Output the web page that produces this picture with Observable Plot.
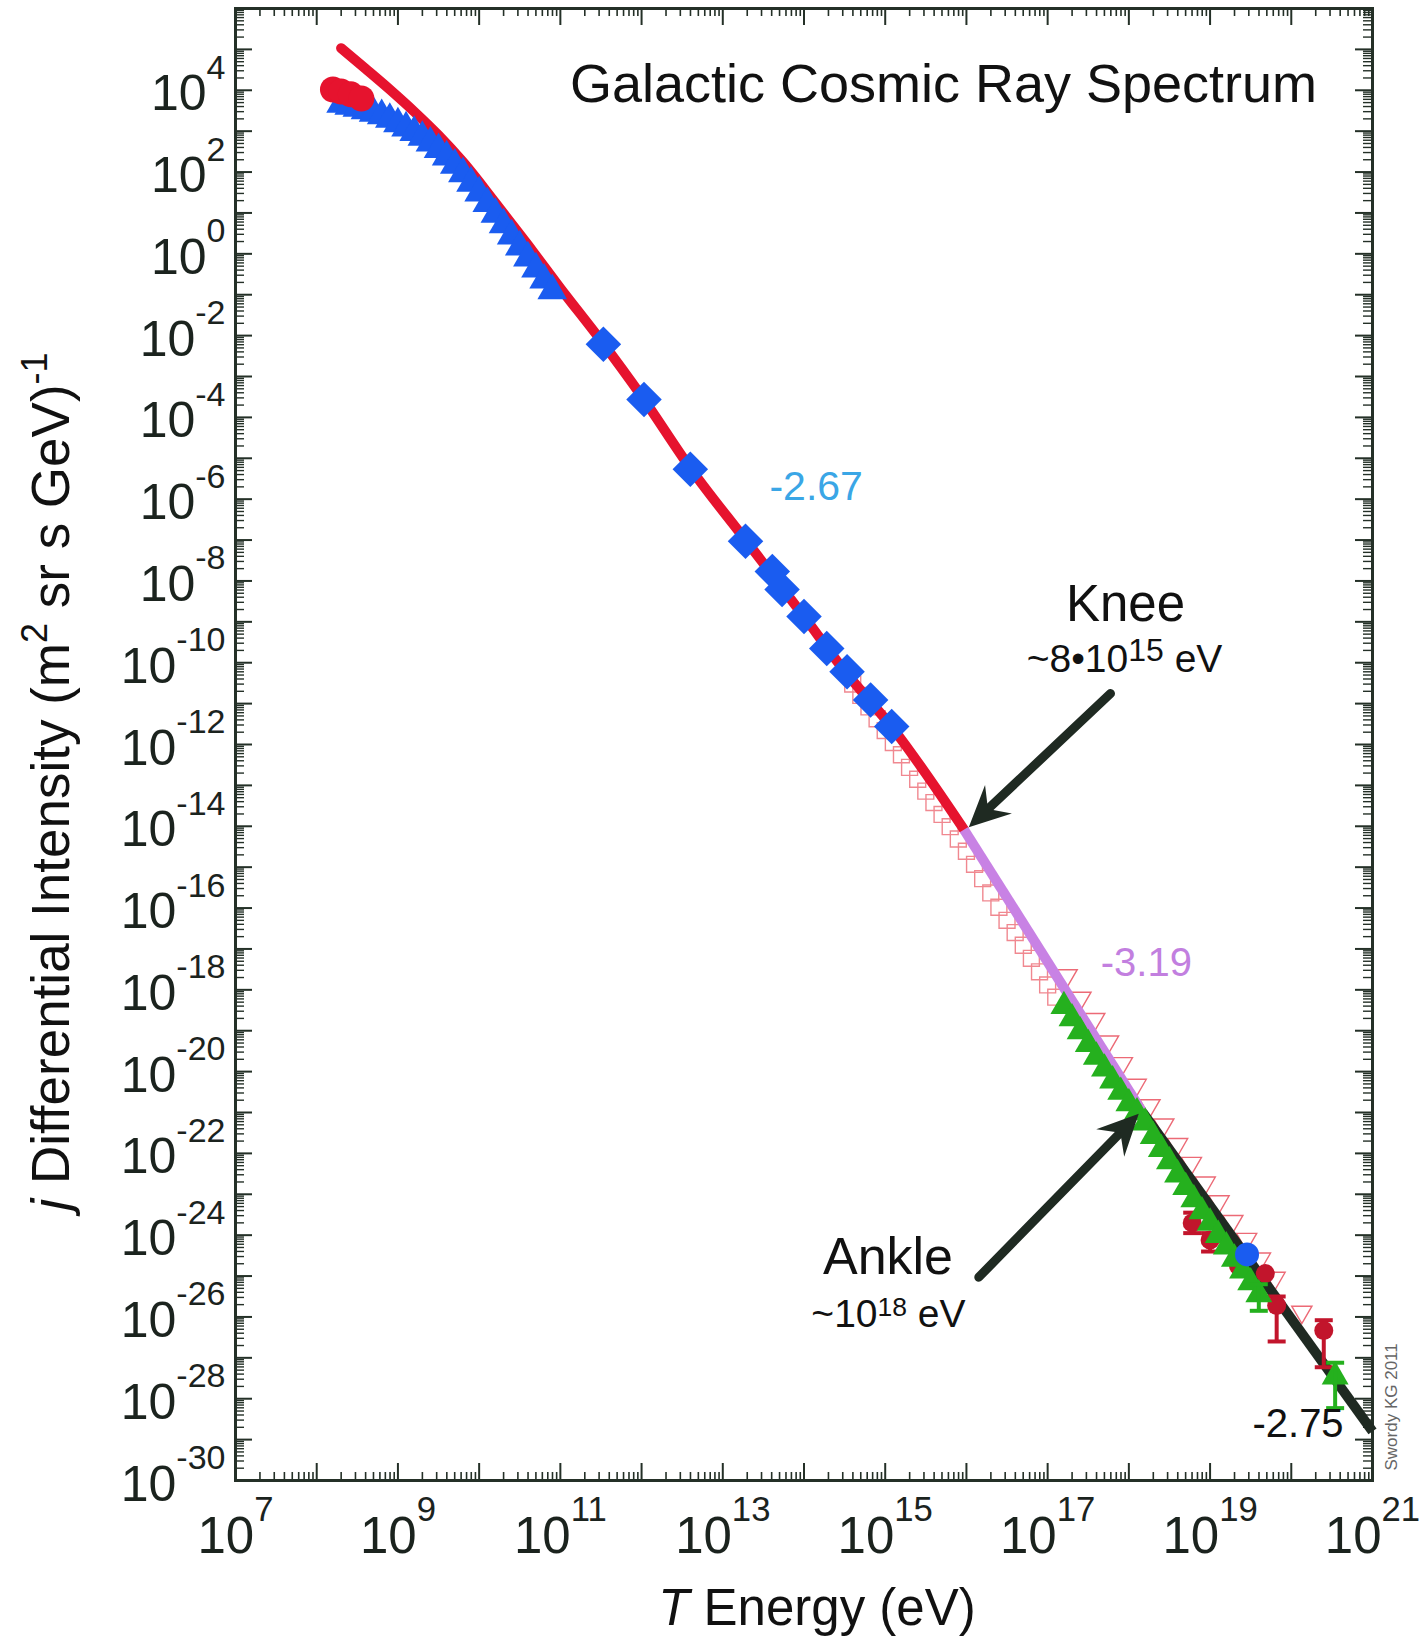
<!DOCTYPE html>
<html><head><meta charset="utf-8">
<script src="https://cdn.jsdelivr.net/npm/d3@7"></script>
<script src="https://cdn.jsdelivr.net/npm/@observablehq/plot@0.6"></script>
<style>html,body{margin:0;padding:0;background:#fff;} svg{display:block;}</style>
</head><body><div id="chart"></div>
<script>
// ---- values: log10(E / eV) and log10(j / (m^2 sr s GeV)^-1) ----
const fitRedLogE = [8.3, 8.6, 8.9, 9.2, 9.5, 9.8, 10.2, 10.6, 11.0, 11.5, 12.0, 12.6, 13.3, 14.0, 14.5, 15.1, 15.97];
const fitRedLogJ = [5.03, 4.53, 4.02, 3.48, 2.90, 2.25, 1.25, 0.22, -0.84, -2.12, -3.48, -5.24, -7.05, -8.87, -10.20, -11.62, -14.08];
const fitVioletLogE = [15.97, 18.17];
const fitVioletLogJ = [-14.08, -21.0];
const fitBlackLogE = [18.17, 21.0];
const fitBlackLogJ = [-21.0, -28.8];

const redCircleLogE = [8.2, 8.3, 8.42, 8.55];
const redCircleLogJ = [4.02, 3.97, 3.90, 3.80];

const blueTriLogE = [8.3, 8.4, 8.5, 8.6, 8.7, 8.8, 8.9, 9.0, 9.1, 9.2, 9.3, 9.4, 9.5, 9.6, 9.7, 9.8, 9.9, 10.0, 10.1, 10.2, 10.3, 10.4, 10.5, 10.6, 10.7, 10.8, 10.9];
const blueTriLogJ = [3.66, 3.61, 3.56, 3.50, 3.44, 3.38, 3.29, 3.18, 3.08, 2.97, 2.85, 2.71, 2.55, 2.37, 2.17, 1.96, 1.73, 1.49, 1.23, 0.97, 0.71, 0.44, 0.17, -0.10, -0.37, -0.64, -0.90];

const diamondLogE = [11.53, 12.03, 12.60, 13.28, 13.61, 13.73, 14.00, 14.28, 14.53, 14.82, 15.08];
const diamondLogJ = [-2.21, -3.56, -5.27, -7.03, -7.77, -8.21, -8.87, -9.65, -10.22, -10.91, -11.56];

const openSqLogE = [14.6, 14.7, 14.8, 14.9, 15.0, 15.1, 15.2, 15.3, 15.4, 15.5, 15.6, 15.7, 15.8, 15.9, 16.0, 16.1, 16.2, 16.3, 16.4, 16.5, 16.6, 16.7, 16.8, 16.9, 17.0, 17.1];
const openSqLogJ = [-10.52, -10.80, -11.08, -11.37, -11.66, -11.95, -12.25, -12.56, -12.85, -13.14, -13.42, -13.71, -14.01, -14.31, -14.61, -14.93, -15.28, -15.63, -15.98, -16.30, -16.60, -16.91, -17.23, -17.56, -17.88, -18.18];

const openTriLogE = [17.24, 17.41, 17.58, 17.75, 17.92, 18.09, 18.26, 18.43, 18.60, 18.77, 18.94, 19.11, 19.28, 19.45, 19.62, 19.80, 20.13];
const openTriLogJ = [-17.65, -18.20, -18.72, -19.27, -19.80, -20.33, -20.83, -21.30, -21.78, -22.24, -22.72, -23.18, -23.66, -24.10, -24.58, -25.05, -25.88];

const greenTriLogE = [17.2, 17.3, 17.4, 17.5, 17.6, 17.7, 17.8, 17.9, 18.0, 18.1, 18.2, 18.3, 18.4, 18.5, 18.6, 18.7, 18.8, 18.9, 19.0, 19.1, 19.2, 19.3, 19.4, 19.5, 19.6, 20.54];
const greenTriLogJ = [-18.40, -18.70, -19.02, -19.33, -19.64, -19.93, -20.22, -20.50, -20.78, -21.00, -21.25, -21.58, -21.90, -22.20, -22.52, -22.83, -23.13, -23.42, -23.70, -24.00, -24.28, -24.58, -24.87, -25.16, -25.45, -27.46];
const greenErrLogE = [19.6, 20.54];
const greenErrLo = [-25.85, -28.23];
const greenErrHi = [-25.2, -27.12];

const darkRedLogE = [18.78, 19.0, 19.35, 19.68, 19.82, 20.40];
const darkRedLogJ = [-23.70, -24.12, -24.75, -24.94, -25.72, -26.33];
const darkRedErrLogE = [18.78, 19.0, 19.82, 20.40];
const darkRedErrLo = [-23.95, -24.40, -26.60, -27.23];
const darkRedErrHi = [-23.45, -23.95, -25.50, -26.08];

const blueCircleLogE = [19.455];
const blueCircleLogJ = [-24.47];

// axis ticks (exponents)
const xMajorExp = [7, 8, 9, 10, 11, 12, 13, 14, 15, 16, 17, 18, 19, 20, 21];
const xLabelExp = [7, 9, 11, 13, 15, 17, 19, 21];
const yMajorExp = [6, 5, 4, 3, 2, 1, 0, -1, -2, -3, -4, -5, -6, -7, -8, -9, -10, -11, -12, -13, -14, -15, -16, -17, -18, -19, -20, -21, -22, -23, -24, -25, -26, -27, -28, -29, -30];
const yLabelExp = [4, 2, 0, -2, -4, -6, -8, -10, -12, -14, -16, -18, -20, -22, -24, -26, -28, -30];
const minorMult = [2, 3, 4, 5, 6, 7, 8, 9];

// texts
const chartTitle = "Galactic Cosmic Ray Spectrum";
const xTitle = "@{T} Energy (eV)";
const yTitle = "@{j} Differential Intensity (m^[0.68,0.42]{2} sr s GeV)^[0.68,0.42]{-1}";
const credit = "Swordy KG 2011";
// annotation anchors [logE, logJ]
const slopeRed = {text: "-2.67", at: [14.15, -5.71]};
const slopeViolet = {text: "-3.19", at: [18.215, -17.34]};
const slopeBlack = {text: "-2.75", at: [20.083, -28.63]};
const kneeLabel = {text: "Knee", at: [17.959, -8.57]};
const kneeValue = {text: "~8•10^[0.82,0.3]{15} eV", at: [17.947, -9.93]};
const ankleLabel = {text: "Ankle", at: [15.034, -24.54]};
const ankleValue = {text: "~10^[0.68,0.3]{18} eV", at: [15.04, -25.95]};
// arrows [fromLogE, fromLogJ, toLogE, toLogJ]
const kneeArrow = [17.774, -10.753, 16.029, -14.022];
const ankleArrow = [16.152, -25.028, 18.122, -21.032];

// ---- build ----
const pts = (E, J) => E.map((e, i) => ({E: 10 ** e, J: 10 ** J[i]}));
const errs = (E, lo, hi) => E.map((e, i) => ({E: 10 ** e, lo: 10 ** lo[i], hi: 10 ** hi[i]}));
const caps = (E, lo, hi) => E.flatMap((e, i) => [{E: 10 ** e, J: 10 ** lo[i]}, {E: 10 ** e, J: 10 ** hi[i]}]);
const ann = (a) => [{E: 10 ** a.at[0], J: 10 ** a.at[1], text: a.text}];
const arrowRow = (a) => [{x1: 10 ** a[0], y1: 10 ** a[1], x2: 10 ** a[2], y2: 10 ** a[3]}];

const xMajor = xMajorExp.map(e => 10 ** e);
const yMajor = yMajorExp.map(e => 10 ** e);
const xMinor = xMajorExp.slice(0, -1).flatMap(e => minorMult.map(m => m * 10 ** e));
const yMinor = yMajorExp.slice(1).flatMap(e => minorMult.map(m => m * 10 ** e));

const W = 1422, H = 1639, mL = 235, mR = 50, mT = 8, mB = 159;
const plotW = W - mL - mR, plotH = H - mT - mB;
const pxPerDecX = plotW / (xMajorExp[xMajorExp.length - 1] - xMajorExp[0]);
const pxPerDecY = plotH / (yMajorExp[0] - yMajorExp[yMajorExp.length - 1]);
// screen angle of an arrow (degrees clockwise from "up"), for orienting its head
const headAngle = (a) => Math.atan2((a[2] - a[0]) * pxPerDecX, (a[3] - a[1]) * pxPerDecY) * 180 / Math.PI;

const ink = "#243027", arrowInk = "#1f2a22";
const blue = "#1a5cf0", red = "#e6132e", violet = "#c882e4", green = "#25b01e", darkRed = "#c2152c";
const capSymbol = {draw(ctx, size) { const r = Math.sqrt(size / Math.PI); ctx.moveTo(-r, 0); ctx.lineTo(r, 0); }};
// barbed arrowhead, tip at the origin, pointing up
const headSymbol = {draw(ctx, size) {
  const r = Math.sqrt(size / Math.PI), L = 2.4 * r, w = 1.15 * r, n = 1.55 * r;
  ctx.moveTo(0, 0); ctx.lineTo(w, L); ctx.lineTo(0, n); ctx.lineTo(-w, L); ctx.closePath();
}};
const font = "'Liberation Sans', Arial, Helvetica, sans-serif";

const chart = Plot.plot({
  width: W, height: H,
  marginLeft: mL, marginRight: mR, marginTop: mT, marginBottom: mB,
  style: {fontFamily: font, background: "#fff", overflow: "visible"},
  x: {type: "log", domain: [1e7, 1e21], axis: null},
  y: {type: "log", domain: [1e-30, 1e6], axis: null},
  marks: [
    // ticks (inward on all four sides)
    Plot.ruleX(xMajor, {x: d => d, insetTop: plotH - 17, stroke: ink, strokeWidth: 2}),
    Plot.ruleX(xMajor, {x: d => d, insetBottom: plotH - 17, stroke: ink, strokeWidth: 2}),
    Plot.ruleX(xMinor, {x: d => d, insetTop: plotH - 8, stroke: ink, strokeWidth: 1.6}),
    Plot.ruleX(xMinor, {x: d => d, insetBottom: plotH - 8, stroke: ink, strokeWidth: 1.6}),
    Plot.ruleY(yMajor, {y: d => d, insetRight: plotW - 17, stroke: ink, strokeWidth: 2}),
    Plot.ruleY(yMajor, {y: d => d, insetLeft: plotW - 17, stroke: ink, strokeWidth: 2}),
    Plot.ruleY(yMinor, {y: d => d, insetRight: plotW - 9, stroke: ink, strokeWidth: 1.4}),
    Plot.ruleY(yMinor, {y: d => d, insetLeft: plotW - 9, stroke: ink, strokeWidth: 1.4}),
    Plot.frame({stroke: ink, strokeWidth: 3}),

    // open markers (behind the fit line)
    Plot.dot(pts(openSqLogE, openSqLogJ), {x: "E", y: "J", symbol: "square", r: 9, fill: "none", stroke: "#f08890", strokeWidth: 1.4}),
    Plot.dot(pts(openTriLogE, openTriLogJ), {x: "E", y: "J", symbol: "triangle", rotate: 180, r: 7.5, fill: "none", stroke: "#ec6a76", strokeWidth: 1.4}),

    // fit line
    Plot.line(pts(fitRedLogE, fitRedLogJ), {x: "E", y: "J", stroke: red, strokeWidth: 10, strokeLinecap: "round", curve: "monotone-x"}),
    Plot.line(pts(fitVioletLogE, fitVioletLogJ), {x: "E", y: "J", stroke: violet, strokeWidth: 10, strokeLinecap: "butt"}),
    Plot.line(pts(fitBlackLogE, fitBlackLogJ), {x: "E", y: "J", stroke: "#1f2a22", strokeWidth: 10, strokeLinecap: "butt"}),

    // filled markers
    Plot.dot(pts(blueTriLogE, blueTriLogJ), {x: "E", y: "J", symbol: "triangle", r: 11, fill: blue}),
    Plot.dot(pts(redCircleLogE, redCircleLogJ), {x: "E", y: "J", r: 13, fill: red}),
    Plot.dot(pts(diamondLogE, diamondLogJ), {x: "E", y: "J", symbol: "diamond2", r: 16, fill: blue}),
    Plot.ruleX(errs(darkRedErrLogE, darkRedErrLo, darkRedErrHi), {x: "E", y1: "lo", y2: "hi", stroke: darkRed, strokeWidth: 4}),
    Plot.dot(caps(darkRedErrLogE, darkRedErrLo, darkRedErrHi), {x: "E", y: "J", symbol: capSymbol, r: 9, stroke: darkRed, strokeWidth: 4, fill: "none"}),
    Plot.dot(pts(darkRedLogE, darkRedLogJ), {x: "E", y: "J", r: 9.5, fill: darkRed}),
    Plot.dot(pts(greenTriLogE, greenTriLogJ), {x: "E", y: "J", symbol: "triangle", r: 10, fill: green}),
    Plot.ruleX(errs(greenErrLogE, greenErrLo, greenErrHi), {x: "E", y1: "lo", y2: "hi", stroke: green, strokeWidth: 4}),
    Plot.dot(caps(greenErrLogE, greenErrLo, greenErrHi), {x: "E", y: "J", symbol: capSymbol, r: 9, stroke: green, strokeWidth: 4, fill: "none"}),
    Plot.dot(pts(blueCircleLogE, blueCircleLogJ), {x: "E", y: "J", r: 12, fill: blue}),

    // arrows: shaft + filled barbed head
    Plot.arrow(arrowRow(kneeArrow), {x1: "x1", y1: "y1", x2: "x2", y2: "y2", stroke: arrowInk, strokeWidth: 9, strokeLinecap: "round", headLength: 0, insetEnd: 22}),
    Plot.arrow(arrowRow(ankleArrow), {x1: "x1", y1: "y1", x2: "x2", y2: "y2", stroke: arrowInk, strokeWidth: 9, strokeLinecap: "round", headLength: 0, insetEnd: 22}),
    Plot.dot(arrowRow(kneeArrow), {x: "x2", y: "y2", symbol: headSymbol, r: 17, fill: arrowInk, stroke: "none", rotate: headAngle(kneeArrow)}),
    Plot.dot(arrowRow(ankleArrow), {x: "x2", y: "y2", symbol: headSymbol, r: 17, fill: arrowInk, stroke: "none", rotate: headAngle(ankleArrow)}),

    // tick labels
    Plot.text(yLabelExp, {y: d => 10 ** d, text: d => `10^{${d}}`, frameAnchor: "left", textAnchor: "end", lineAnchor: "middle", dx: -10, dy: 4, fontSize: 50, fill: "#1b231e"}),
    Plot.text(xLabelExp, {x: d => 10 ** d, text: d => `10^{${d}}`, frameAnchor: "bottom", textAnchor: "middle", lineAnchor: "middle", dy: 56, fontSize: 51, fill: "#1b231e"}),

    // axis titles, title, credit
    Plot.text([xTitle], {text: d => d, frameAnchor: "bottom", textAnchor: "middle", lineAnchor: "middle", dx: 13, dy: 128, fontSize: 51, fill: "#111"}),
    Plot.text([yTitle], {text: d => d, frameAnchor: "left", rotate: -90, textAnchor: "start", lineAnchor: "middle", dx: -183, dy: 466, fontSize: 53, fill: "#111"}),
    Plot.text([chartTitle], {text: d => d, frameAnchor: "top", textAnchor: "middle", lineAnchor: "middle", dx: 139.5, dy: 76, fontSize: 54, fill: "#111"}),
    Plot.text([credit], {text: d => d, frameAnchor: "bottom-right", rotate: -90, textAnchor: "start", lineAnchor: "middle", dx: 19, dy: -10, fontSize: 17, fill: "#666"}),

    // annotations
    Plot.text(ann(slopeRed), {x: "E", y: "J", text: "text", fontSize: 41, fill: "#3aa6e6"}),
    Plot.text(ann(slopeViolet), {x: "E", y: "J", text: "text", fontSize: 40, fill: "#c27fdf"}),
    Plot.text(ann(slopeBlack), {x: "E", y: "J", text: "text", fontSize: 40, fill: "#111"}),
    Plot.text(ann(kneeLabel), {x: "E", y: "J", text: "text", fontSize: 51, fill: "#111"}),
    Plot.text(ann(kneeValue), {x: "E", y: "J", text: "text", fontSize: 39, fill: "#111"}),
    Plot.text(ann(ankleLabel), {x: "E", y: "J", text: "text", fontSize: 52, fill: "#111"}),
    Plot.text(ann(ankleValue), {x: "E", y: "J", text: "text", fontSize: 39, fill: "#111"})
  ]
});
document.getElementById("chart").appendChild(chart);

// rich text: ^[size,shift]{sup} and @{italic}
function richify(el) {
  const s = el.textContent;
  if (!/[\^@]\{|\^\[/.test(s)) return;
  const fs = parseFloat(getComputedStyle(el).fontSize);
  while (el.firstChild) el.removeChild(el.firstChild);
  const re = /\^(?:\[([\d.]+),([\d.]+)\])?\{([^}]*)\}|@\{([^}]*)\}|([^\^@]+)/g;
  let m, pending = 0;
  while ((m = re.exec(s)) !== null) {
    const t = document.createElementNS("http://www.w3.org/2000/svg", "tspan");
    if (m[3] !== undefined) {
      const r = m[1] ? +m[1] : 0.68, sh = (m[2] ? +m[2] : 0.63) * fs;
      t.setAttribute("font-size", (r * fs).toFixed(1));
      t.setAttribute("dy", (pending - sh).toFixed(1));
      pending = sh;
      t.textContent = m[3];
    } else {
      const italic = m[4] !== undefined;
      t.textContent = italic ? m[4] : m[5];
      if (italic) t.setAttribute("font-style", "italic");
      if (pending) { t.setAttribute("dy", pending.toFixed(1)); pending = 0; }
    }
    el.appendChild(t);
  }
}
chart.querySelectorAll("text").forEach(richify);
</script></body></html>
